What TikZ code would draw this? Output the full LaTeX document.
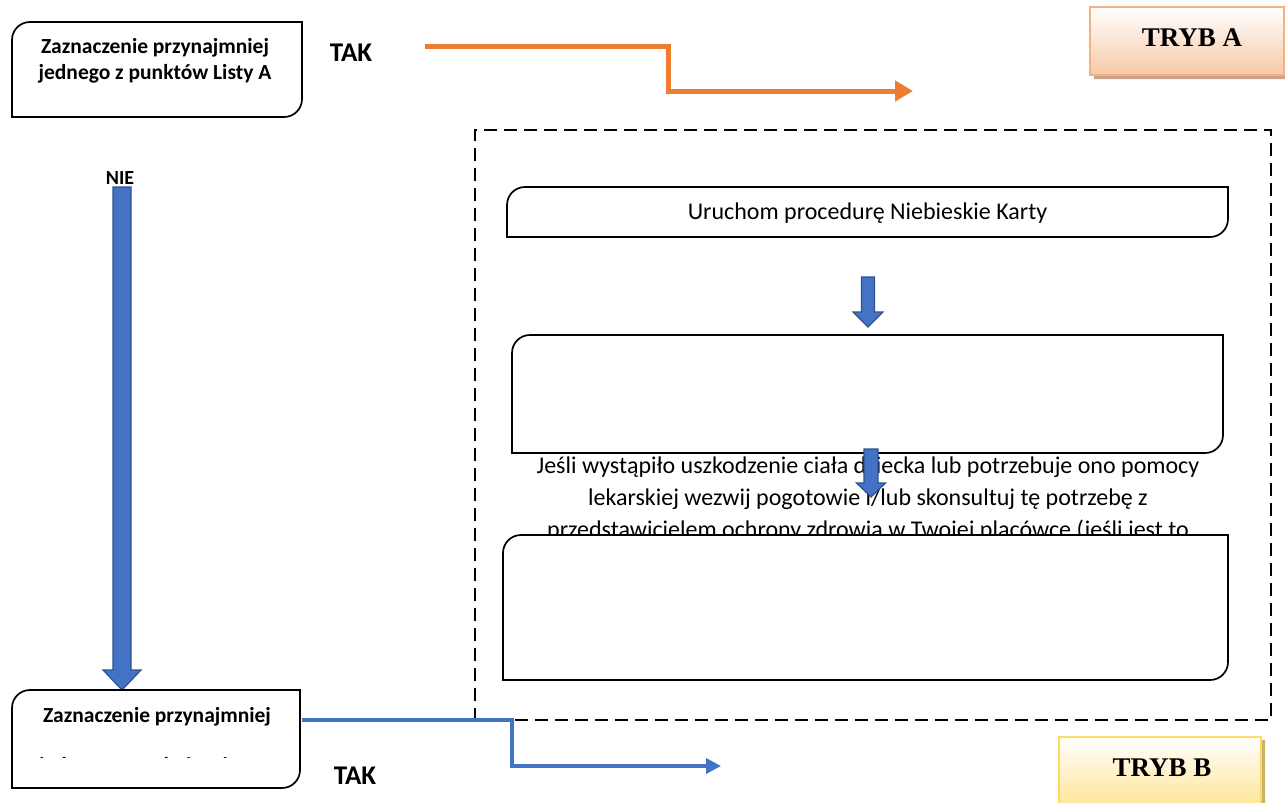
\documentclass[tikz,border=0pt]{standalone}
\usepackage{fontspec}
\setmainfont{Carlito}
\newfontfamily\cambria{Liberation Serif}
\usetikzlibrary{arrows.meta,shapes.misc,shadows,calc}
\definecolor{orng}{HTML}{ED7D31}
\definecolor{blu}{HTML}{4472C4}
\definecolor{bluedge}{HTML}{2F528F}
\definecolor{peach}{HTML}{F4B183}
\definecolor{peachlt}{HTML}{F6C9A6}
\definecolor{peachsh}{HTML}{C9A088}
\definecolor{gold}{HTML}{FFD966}
\definecolor{goldlt}{HTML}{FFE493}
\definecolor{goldsh}{HTML}{C9B26A}
\newcommand\rbx[1]{\draw[boxline] ([yshift=-18pt]#1.north west) .. controls ([yshift=-8pt]#1.north west) and ([xshift=8pt]#1.north west) .. ([xshift=18pt]#1.north west) -- (#1.north east) -- ([yshift=18pt]#1.south east) .. controls ([yshift=8pt]#1.south east) and ([xshift=-8pt]#1.south east) .. ([xshift=-18pt]#1.south east) -- (#1.south west) -- cycle;}
\newcommand\blkarrow[6]{% x, ytop, yhead, ytip, half shaft, half head
  \draw[blkarr] (#1-#5,#2) -- (#1+#5,#2) -- (#1+#5,#3) -- (#1+#6,#3) -- (#1,#4) -- (#1-#6,#3) -- (#1-#5,#3) -- cycle;}
\tikzset{
  frame/.style={draw=none,inner sep=0pt,outer sep=0pt},
  boxline/.style={draw=black,line width=1.7pt,fill=white},
  blkarr/.style={draw=bluedge,line width=1.2pt,fill=blu,line join=miter},
  lbl/.style={font=\bfseries\fontsize{27}{30}\selectfont,inner sep=0pt},
  btxt/.style={font=\bfseries\fontsize{21.5}{26}\selectfont,inner sep=0pt},
  para/.style={font=\fontsize{24}{32}\selectfont,align=center,inner sep=0pt},
  tryb/.style={chamfered rectangle,chamfered rectangle corners={north west,north east},
    chamfered rectangle xsep=9pt,chamfered rectangle ysep=9pt,inner sep=0pt,line width=1.5pt},
  tryblbl/.style={font=\cambria\bfseries\fontsize{27}{29}\selectfont,inner sep=0pt},
}
\begin{document}
\begin{tikzpicture}[x=1pt,y=-1pt]
\useasboundingbox (0,0) rectangle (1285,803);
% Box A
\node[frame,minimum width=290pt,minimum height=95pt] (boxA) at (157,69.5) {};
\rbx{boxA}
\node[btxt,align=center] (txtA) at (155,61) {Zaznaczenie przynajmniej\\jednego z punktów Listy A};
\node[lbl] (takA) at (351,53) {TAK};
% orange connector
\coordinate (oS) at (425,46);
\coordinate (oE) at (913,91);
\draw[orng,line width=5pt,-{Triangle[length=18pt,width=20pt]}] (oS) -- (668,46) -- (668,91) -- (oE);
% TRYB A
\node[tryb,draw=peach,top color=white,bottom color=peachlt,minimum width=194pt,minimum height=68pt,
  general shadow={fill=peachsh,shadow xshift=4pt,shadow yshift=-4pt}] (trybA) at (1187,41) {};
\node[tryblbl] (trybAt) at (1192,38) {TRYB A};
% dashed frame
\node[frame,draw=black,line width=1.5pt,dash pattern=on 13pt off 7pt,minimum width=796pt,minimum height=590pt] (dash) at (873,425) {};
% box 1
\node[frame,minimum width=721pt,minimum height=50pt] (b1) at (867.5,212) {};
\rbx{b1}
\node[para] (t1) at (867.5,213) {Uruchom procedurę Niebieskie Karty};
\blkarrow{868}{277}{312}{327}{6.5}{15}
% box 2
\node[frame,minimum width=711pt,minimum height=118pt] (b2) at (867.5,394) {};
\rbx{b2}
\node[para] (t2) at (868,499) {Jeśli wystąpiło uszkodzenie ciała dziecka lub potrzebuje ono pomocy\\lekarskiej wezwij pogotowie i/lub skonsultuj tę potrzebę z\\przedstawicielem ochrony zdrowia w Twojej placówce (jeśli jest to};
\blkarrow{871}{449}{483}{497}{7}{14.5}
% box 3
\node[frame,minimum width=725pt,minimum height=145pt] (b3) at (865.5,607.5) {};
\rbx{b3}
% NIE + big arrow
\node[font=\bfseries\fontsize{20}{22}\selectfont,inner sep=0pt] (nie) at (120,178) {NIE};
\blkarrow{122}{187}{670}{690}{9}{19}
% Box B
\node[frame,minimum width=288pt,minimum height=98pt] (boxB) at (156,739) {};
\rbx{boxB}
\node[btxt] (txtB) at (157,717) {Zaznaczenie przynajmniej};
\begin{scope}
\clip (20,752) rectangle (290,757);
\node[btxt,anchor=base] (txtB2) at (155,772) {jednego z punktów Listy B};
\end{scope}
\node[lbl] (takB) at (355,776) {TAK};
% blue connector
\coordinate (bS) at (302,720);
\coordinate (bE) at (721,766);
\draw[blu,line width=3.5pt,-{Triangle[length=15pt,width=15pt]}] (bS) -- (512,720) -- (512,766) -- (bE);
% TRYB B
\node[tryb,draw=gold,top color=white,bottom color=goldlt,minimum width=202pt,minimum height=72pt,
  general shadow={fill=goldsh,shadow xshift=4pt,shadow yshift=-3pt}] (trybB) at (1160,773) {};
\node[tryblbl] (trybBt) at (1162,768) {TRYB B};
\end{tikzpicture}
\end{document}
